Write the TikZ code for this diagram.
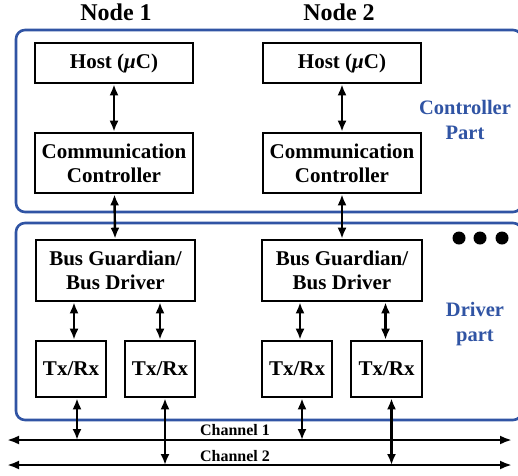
\documentclass[tikz,border=0pt]{standalone}
\usepackage{fontspec}
\setmainfont{Liberation Serif}
\usetikzlibrary{arrows.meta,calc}
\definecolor{partblue}{RGB}{48,84,164}
\begin{document}
\begin{tikzpicture}[x=1pt,y=-1pt,
  box/.style={draw=black,line width=2.6pt,inner sep=0pt,align=center,
    font=\bfseries\fontsize{21}{24}\selectfont},
  part/.style={draw=partblue,line width=2.6pt,rounded corners=9pt},
  partlabel/.style={text=partblue,align=center,font=\bfseries\fontsize{20.5}{25}\selectfont},
  title/.style={font=\bfseries\fontsize{24}{28}\selectfont},
  chlabel/.style={font=\bfseries\fontsize{16}{18}\selectfont,inner sep=0pt},
  link/.style={line width=2.4pt,{Latex[length=11pt,width=9pt]}-{Latex[length=11pt,width=9pt]}},
  bus/.style={line width=2.4pt,{Latex[length=12pt,width=9pt]}-{Latex[length=12pt,width=9pt]}},
  dot/.style={circle,fill=black,inner sep=0pt,minimum size=13pt}]
\clip (0,0) rectangle (518,475);
\fill[white] (0,0) rectangle (518,475);

% containers
\draw[part] (16,30) rectangle (522,212);
\draw[part] (16,223) rectangle (522,420);

% titles
\node[title] (t1) at (116,12) {Node 1};
\node[title] (t2) at (339,12) {Node 2};

% node 1
\node[box,minimum width=158pt,minimum height=40pt] (host1) at (114,63) {Host ({\itshape μ}C)};
\node[box,minimum width=158pt,minimum height=60pt] (cc1) at (114,163) {Communication\\Controller};
\node[box,minimum width=159pt,minimum height=61pt] (bg1) at (115.5,270.5) {Bus Guardian/\\Bus Driver};
\node[box,minimum width=70pt,minimum height=56pt] (tx11) at (71,369) {Tx/Rx};
\node[box,minimum width=70pt,minimum height=56pt] (tx12) at (160,369) {Tx/Rx};

% node 2
\node[box,minimum width=158pt,minimum height=40pt] (host2) at (342,63) {Host ({\itshape μ}C)};
\node[box,minimum width=158pt,minimum height=60pt] (cc2) at (342,163) {Communication\\Controller};
\node[box,minimum width=160pt,minimum height=61pt] (bg2) at (342,270.5) {Bus Guardian/\\Bus Driver};
\node[box,minimum width=70pt,minimum height=56pt] (tx21) at (297,369) {Tx/Rx};
\node[box,minimum width=71pt,minimum height=56pt] (tx22) at (386.5,369) {Tx/Rx};

% part labels
\node[partlabel] (cpl) at (465,120) {Controller\\Part};
\node[partlabel] (dpl) at (475,324) {Driver\\part};

% dots
\node[dot] (d1) at (459,238) {};
\node[dot] (d2) at (480,238) {};
\node[dot] (d3) at (502,238) {};

% channels
\coordinate (c1l) at (7,440);
\coordinate (c1r) at (512,440);
\coordinate (c2l) at (7,465);
\coordinate (c2r) at (512,465);
\draw[bus] (c1l) -- (c1r);
\draw[bus] (c2l) -- (c2r);
\node[chlabel] (ch1) at (235,430) {Channel 1};
\node[chlabel] (ch2) at (235,456) {Channel 2};

% links
\draw[link] (host1) -- (cc1);
\draw[link] (cc1) -- (bg1);
\draw[link] (host2) -- (cc2);
\draw[link] (cc2) -- (bg2);

\draw[link] ([xshift=3pt]bg1.south -| tx11.north) -- ([xshift=3pt]tx11.north);
\draw[link] (bg1.south -| tx12.north) -- (tx12.north);
\draw[link] ([xshift=3pt]bg2.south -| tx21.north) -- ([xshift=3pt]tx21.north);
\draw[link] ([xshift=-1pt]bg2.south -| tx22.north) -- ([xshift=-1pt]tx22.north);

\draw[link] ([xshift=6pt]tx11.south) -- ([xshift=6pt]tx11.south |- c1l);
\draw[link] ([xshift=5pt]tx12.south) -- ([xshift=5pt]tx12.south |- c2l);
\draw[link] ([xshift=5pt]tx21.south) -- ([xshift=5pt]tx21.south |- c1l);
\draw[link] ([xshift=5pt]tx22.south) -- ([xshift=5pt]tx22.south |- c2l);
\end{tikzpicture}
\end{document}
